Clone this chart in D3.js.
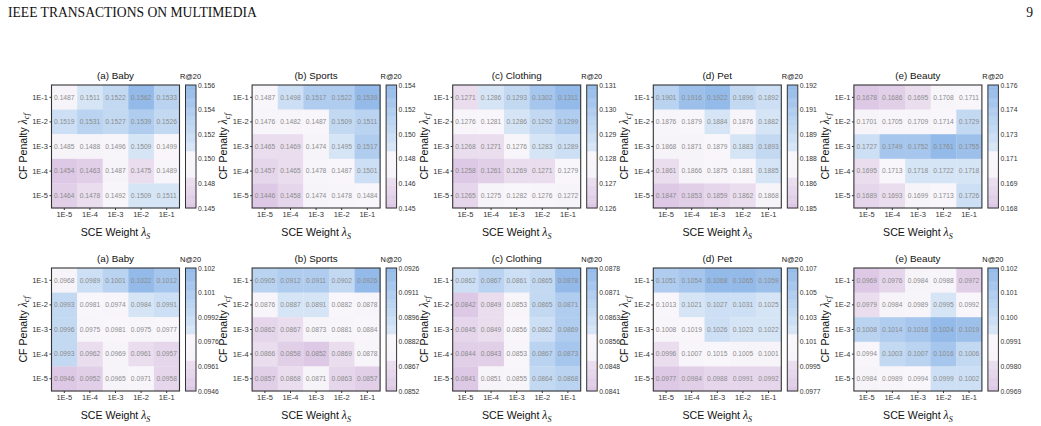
<html>
<head>
<meta charset="utf-8">
<script src="https://d3js.org/d3.v7.min.js"></script>
<style>
  body { margin: 0; background: #fff; }
  text { font-family: 'Liberation Sans', Arial, sans-serif; }
  .cell-val { fill: #8c8c8c; font-size: 6.7px; }
  .tick text { fill: #333; font-size: 7.5px; }
  .cb .tick text { fill: #333; font-size: 6.8px; }
  .math { font-family: 'Liberation Serif', 'Times New Roman', serif; font-style: italic; }
</style>
</head>
<body>
<div id="chart"></div>
<script>
  /*--- Axis categories ---*/
  var cfPenalty = ["1E-1", "1E-2", "1E-3", "1E-4", "1E-5"];   // rows, top to bottom
  var sceWeight = ["1E-5", "1E-4", "1E-3", "1E-2", "1E-1"];   // columns
  var datasets = ["(a) Baby", "(b) Sports", "(c) Clothing", "(d) Pet", "(e) Beauty"];
  var metrics = ["R@20", "N@20"];

  /*--- R@20 values (row = CF penalty, col = SCE weight) ---*/
  var recallBaby = [
    [0.1487, 0.1511, 0.1522, 0.1562, 0.1533],
    [0.1519, 0.1531, 0.1527, 0.1539, 0.1526],
    [0.1485, 0.1488, 0.1496, 0.1509, 0.1499],
    [0.1454, 0.1463, 0.1487, 0.1475, 0.1489],
    [0.1464, 0.1478, 0.1492, 0.1509, 0.1511]];
  var recallSports = [
    [0.1487, 0.1498, 0.1517, 0.1522, 0.1539],
    [0.1476, 0.1482, 0.1487, 0.1509, 0.1511],
    [0.1465, 0.1469, 0.1474, 0.1495, 0.1517],
    [0.1457, 0.1465, 0.1478, 0.1487, 0.1501],
    [0.1446, 0.1458, 0.1474, 0.1478, 0.1484]];
  var recallClothing = [
    [0.1271, 0.1286, 0.1293, 0.1302, 0.1311],
    [0.1276, 0.1281, 0.1286, 0.1292, 0.1299],
    [0.1268, 0.1271, 0.1276, 0.1283, 0.1289],
    [0.1258, 0.1261, 0.1269, 0.1271, 0.1279],
    [0.1265, 0.1275, 0.1282, 0.1276, 0.1272]];
  var recallPet = [
    [0.1901, 0.1916, 0.1922, 0.1896, 0.1892],
    [0.1876, 0.1879, 0.1884, 0.1876, 0.1882],
    [0.1868, 0.1871, 0.1879, 0.1883, 0.1893],
    [0.1861, 0.1866, 0.1875, 0.1881, 0.1885],
    [0.1847, 0.1853, 0.1859, 0.1862, 0.1868]];
  var recallBeauty = [
    [0.1678, 0.1686, 0.1695, 0.1708, 0.1711],
    [0.1701, 0.1705, 0.1709, 0.1714, 0.1729],
    [0.1727, 0.1749, 0.1752, 0.1761, 0.1755],
    [0.1695, 0.1713, 0.1718, 0.1722, 0.1718],
    [0.1689, 0.1693, 0.1699, 0.1713, 0.1726]];

  /*--- N@20 values ---*/
  var ndcgBaby = [
    [0.0968, 0.0989, 0.1001, 0.1022, 0.1012],
    [0.0993, 0.0981, 0.0974, 0.0984, 0.0991],
    [0.0996, 0.0975, 0.0981, 0.0975, 0.0977],
    [0.0993, 0.0962, 0.0969, 0.0961, 0.0957],
    [0.0946, 0.0952, 0.0965, 0.0971, 0.0958]];
  var ndcgSports = [
    [0.0905, 0.0912, 0.0911, 0.0902, 0.0926],
    [0.0876, 0.0887, 0.0891, 0.0882, 0.0878],
    [0.0862, 0.0867, 0.0873, 0.0881, 0.0884],
    [0.0866, 0.0858, 0.0852, 0.0869, 0.0878],
    [0.0857, 0.0868, 0.0871, 0.0863, 0.0857]];
  var ndcgClothing = [
    [0.0862, 0.0867, 0.0861, 0.0865, 0.0878],
    [0.0842, 0.0849, 0.0853, 0.0865, 0.0871],
    [0.0845, 0.0849, 0.0856, 0.0862, 0.0869],
    [0.0844, 0.0843, 0.0853, 0.0867, 0.0873],
    [0.0841, 0.0851, 0.0855, 0.0864, 0.0868]];
  var ndcgPet = [
    [0.1051, 0.1054, 0.1068, 0.1065, 0.1059],
    [0.1013, 0.1021, 0.1027, 0.1031, 0.1025],
    [0.1008, 0.1019, 0.1026, 0.1023, 0.1022],
    [0.0996, 0.1007, 0.1015, 0.1005, 0.1001],
    [0.0977, 0.0984, 0.0988, 0.0991, 0.0992]];
  var ndcgBeauty = [
    [0.0969, 0.0976, 0.0984, 0.0988, 0.0972],
    [0.0979, 0.0984, 0.0989, 0.0995, 0.0992],
    [0.1008, 0.1014, 0.1018, 0.1024, 0.1019],
    [0.0994, 0.1003, 0.1007, 0.1016, 0.1006],
    [0.0984, 0.0989, 0.0994, 0.0999, 0.1002]];

  var grids = [
    [recallBaby, recallSports, recallClothing, recallPet, recallBeauty],
    [ndcgBaby, ndcgSports, ndcgClothing, ndcgPet, ndcgBeauty]];

  /*--- Page / layout ---*/
  var width = 1041, height = 426,
    mapW = 128, mapH = 123,
    rowTop = [85, 268],
    panelLeft = function (i) { return 51.5 + i * 200.6; };

  var svg = d3.select("#chart").append("svg")
    .attr("width", width).attr("height", height);

  svg.append("text").attr("x", 8).attr("y", 17)
    .style("font-family", "'Liberation Serif', 'Times New Roman', serif")
    .style("font-size", "13.6px").attr("fill", "#111")
    .text("IEEE TRANSACTIONS ON MULTIMEDIA");
  svg.append("text").attr("x", 1033).attr("y", 17).attr("text-anchor", "end")
    .style("font-family", "'Liberation Serif', 'Times New Roman', serif")
    .style("font-size", "13.6px").attr("fill", "#111")
    .text("9");

  /*--- Purple -> white -> blue palette, stepped like the original ---*/
  var palette = d3.scaleLinear()
    .domain([0, 0.25, 0.255, 0.46, 0.465, 1])
    .range(["#ddc8e5", "#ebe0f0", "#f7f3f9", "#f9f7fb", "#dbe8f7", "#93bae9"]);
  function stepColor(t) {
    var q = Math.min(1, Math.max(0, Math.round(t * 14) / 14));
    return palette(q);
  }

  var x = d3.scaleBand().domain(sceWeight).range([0, mapW]),
    y = d3.scaleBand().domain(cfPenalty).range([0, mapH]),
    fmtTick = d3.format(".3g");

  grids.forEach(function (row, r) {
    row.forEach(function (grid, i) {
      var g = svg.append("g")
        .attr("transform", "translate(" + panelLeft(i) + "," + rowTop[r] + ")");

      var flat = [];
      grid.forEach(function (vals, ri) {
        vals.forEach(function (v, ci) {
          flat.push({ row: cfPenalty[ri], col: sceWeight[ci], v: v });
        });
      });
      var ext = d3.extent(flat, function (d) { return d.v; }),
        norm = d3.scaleLinear().domain(ext).range([0, 1]);

      /*--- Cells ---*/
      g.selectAll("rect.cell").data(flat).enter().append("rect")
        .attr("class", "cell")
        .attr("x", function (d) { return x(d.col); })
        .attr("y", function (d) { return y(d.row); })
        .attr("width", x.bandwidth() + 0.3)
        .attr("height", y.bandwidth() + 0.3)
        .attr("fill", function (d) { return stepColor(norm(d.v)); });

      g.selectAll("text.cell-val").data(flat).enter().append("text")
        .attr("class", "cell-val")
        .attr("x", function (d) { return x(d.col) + x.bandwidth() / 2; })
        .attr("y", function (d) { return y(d.row) + y.bandwidth() / 2; })
        .attr("text-anchor", "middle").attr("dy", "0.35em")
        .text(function (d) { return d.v.toFixed(4); });

      g.append("rect").attr("width", mapW).attr("height", mapH)
        .attr("fill", "none").attr("stroke", "#333").attr("stroke-width", 1.1);

      /*--- Axes ---*/
      var ya = g.append("g").call(d3.axisLeft(y).tickSize(2).tickPadding(1.5));
      var xa = g.append("g").attr("transform", "translate(0," + mapH + ")")
        .call(d3.axisBottom(x).tickSize(2).tickPadding(2));
      [ya, xa].forEach(function (a) {
        a.select(".domain").remove();
        a.selectAll(".tick line").attr("stroke", "#333");
      });

      /*--- Titles ---*/
      g.append("text").attr("x", mapW / 2).attr("y", -6)
        .attr("text-anchor", "middle").style("font-size", "9.8px").attr("fill", "#111")
        .text(datasets[i]);

      var xt = g.append("text").attr("x", mapW / 2).attr("y", mapH + 28)
        .attr("text-anchor", "middle").style("font-size", "10.6px").attr("fill", "#111");
      xt.append("tspan").text("SCE Weight ");
      xt.append("tspan").attr("class", "math").style("font-size", "11.8px").text("λ");
      xt.append("tspan").attr("class", "math").style("font-size", "8px").attr("dy", 2.5).text("S");

      var yt = g.append("text")
        .attr("transform", "translate(-25," + (mapH / 2) + ") rotate(-90)")
        .attr("text-anchor", "middle").style("font-size", "10.6px").attr("fill", "#111");
      yt.append("tspan").text("CF Penalty ");
      yt.append("tspan").attr("class", "math").style("font-size", "11.8px").text("λ");
      yt.append("tspan").attr("class", "math").style("font-size", "8px").attr("dy", 2.5).text("cf");

      /*--- Colour bar ---*/
      var cb = g.append("g").attr("class", "cb").attr("transform", "translate(134,0)");
      var cbScale = d3.scaleLinear().domain(ext).range([mapH, 0]),
        bands = d3.range(0, 1, 1 / 56);
      cb.selectAll("rect.band").data(bands).enter().append("rect")
        .attr("class", "band")
        .attr("x", 0).attr("width", 10.5)
        .attr("y", function (t) { return mapH * (1 - t - 1 / 56); })
        .attr("height", mapH / 56 + 0.4)
        .attr("fill", function (t) { return stepColor(t + 0.5 / 56); });
      cb.append("rect").attr("width", 10.5).attr("height", mapH)
        .attr("fill", "none").attr("stroke", "#333").attr("stroke-width", 1);

      var tickVals = d3.range(6).map(function (k) { return ext[0] + k * (ext[1] - ext[0]) / 5; });
      var cba = cb.append("g").attr("transform", "translate(10.5,0)")
        .call(d3.axisRight(cbScale).tickValues(tickVals).tickSize(0).tickPadding(2).tickFormat(fmtTick));
      cba.select(".domain").remove();

      cb.append("text").attr("x", 5).attr("y", -6).attr("text-anchor", "middle")
        .style("font-size", "7.4px").attr("fill", "#111").text(metrics[r]);
    });
  });
</script>
</body>
</html>
